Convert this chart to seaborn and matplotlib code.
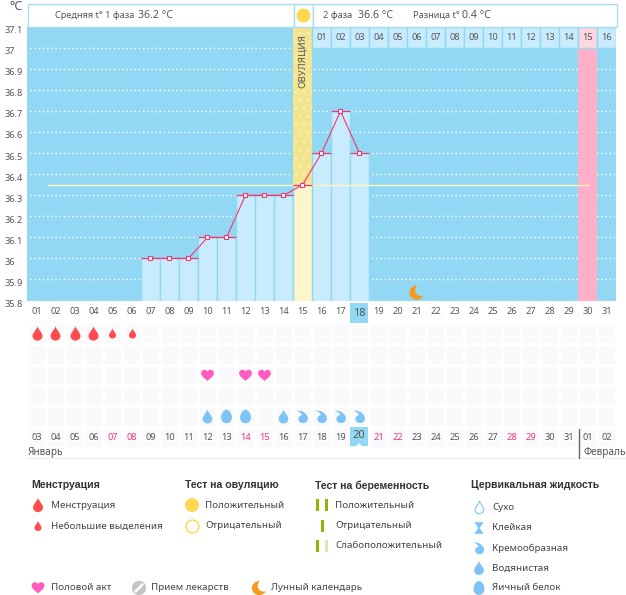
import matplotlib
matplotlib.use("Agg")
import matplotlib.pyplot as plt
import numpy as np
import seaborn as sns
from matplotlib.patches import Rectangle, Polygon
from matplotlib.path import Path
from matplotlib.transforms import ScaledTranslation

# chart values
chart_days = [7, 8, 9, 10, 11, 12, 13, 14, 15, 16, 17, 18]
temps = [36.0, 36.0, 36.0, 36.1, 36.1, 36.3, 36.3, 36.3, 36.35, 36.5, 36.7, 36.5]
bar_phase = ["f", "f", "f", "f", "f", "f", "f", "f", "o", "f", "f", "f"]
cycle_labels = ["%02d" % d for d in range(1, 32)]
date_labels = ["03", "04", "05", "06", "07", "08", "09", "10", "11", "12", "13", "14", "15", "16", "17", "18",
               "19", "20", "21", "22", "23", "24", "25", "26", "27", "28", "29", "30", "31", "01", "02"]
weekend_labels = ["07", "08", "14", "15", "21", "22", "28", "29"]
phase2_days = list(range(16, 32))
phase2_labels = ["%02d" % d for d in range(1, 17)]
temp_ticks = [37.1, 37, 36.9, 36.8, 36.7, 36.6, 36.5, 36.4, 36.3, 36.2, 36.1, 36, 35.9, 35.8]
temp_tick_labels = ["37.1", "37", "36.9", "36.8", "36.7", "36.6", "36.5", "36.4", "36.3", "36.2", "36.1", "36", "35.9", "35.8"]
mean_temp = 36.35
mean_from, mean_to = 1.55, 30.1
ovulation_day = 15
period_day = 30
today_day = 18
today_date = "20"
moon_day = [21]
moon_temp = [35.84]

# symbol rows
menses_days = [1, 2, 3, 4]
spotting_days = [5, 6]
sex_days = [10, 12, 13]
watery_days = [10, 14]
egg_days = [11, 12]
creamy_days = [15, 16, 17, 18]

BG = "#92d8f5"
BAR = "#c8ebfd"
PINK = "#f0386f"
TXT = "#555555"
RED = "#ff4b4b"
FLUID = "#7cc4f5"
GREEN = "#8db600"
ORANGE = "#f59a1d"
SUN = "#ffd84d"


def curve(points):
    codes = [Path.MOVETO] + [Path.CURVE4] * (len(points) - 1)
    return Path(points, codes)


DROP = curve([(0, 1), (.15, .5), (.7, .1), (.7, -.35), (.7, -.75), (.35, -1), (0, -1),
              (-.35, -1), (-.7, -.75), (-.7, -.35), (-.7, .1), (-.15, .5), (0, 1)])
HEART = curve([(0, -.85), (-.4, -.45), (-1, -.15), (-1, .35), (-1, .75), (-.7, .9), (-.45, .9),
               (-.25, .9), (-.08, .78), (0, .6), (.08, .78), (.25, .9), (.45, .9),
               (.7, .9), (1, .75), (1, .35), (1, -.15), (.4, -.45), (0, -.85)])
EGG = curve([(0, 1), (.45, 1), (.8, .35), (.8, -.15), (.8, -.7), (.4, -1), (0, -1),
             (-.4, -1), (-.8, -.7), (-.8, -.15), (-.8, .35), (-.45, 1), (0, 1)])
CREAMY = curve([(-.9, .85), (-.3, 1), (.4, .7), (.75, .05), (1, -.5), (.6, -1), (.1, -1),
                (-.4, -1), (-.75, -.6), (-.6, -.2), (-.5, .05), (-.2, .2), (-.1, .2),
                (-.1, .5), (-.5, .75), (-.9, .85)])
MOON = curve([(.1, 1), (-.6, 1), (-1, .45), (-1, -.05), (-1, -.6), (-.5, -1), (0, -1),
              (.45, -1), (.8, -.75), (1, -.45), (.5, -.6), (0, -.4), (-.15, .05),
              (-.25, .45), (-.1, .8), (.1, 1)])
STICKY = Path([(-.7, 1), (.7, 1), (.7, .8), (.15, .1), (.15, -.1), (.7, -.8), (.7, -1),
               (-.7, -1), (-.7, -.8), (-.15, -.1), (-.15, .1), (-.7, .8), (-.7, 1)])

sns.set_theme(style="white")
plt.rcParams["font.family"] = ["Noto Sans", "DejaVu Sans"]
plt.rcParams["hatch.linewidth"] = 0.5

W, H = 626, 595
fig = plt.figure(figsize=(W / 100, H / 100), dpi=100, facecolor="white")

# main temperature chart
ax = fig.add_axes([27 / W, (H - 300.5) / H, 589 / W, 273.5 / H], facecolor=BG)
ax.hlines([t for t in temp_ticks if t < 37.1], 0.65, 31.4, color="white", lw=1, ls=(0, (1, 2)), zorder=0.5)
ax.axvspan(ovulation_day - .5, ovulation_day + .5, facecolor="#f3e48f", edgecolor="#fbf4c4", hatch="..", lw=0, zorder=0.6)
ax.axvspan(period_day - .5, period_day + .5, facecolor="#ffb0c8", lw=0, zorder=0.6)

sns.barplot(x=chart_days, y=temps, hue=bar_phase, palette={"f": BAR, "o": "#fdf6cc"}, native_scale=True, saturation=1,
            width=1, dodge=False, legend=False, edgecolor=BG, linewidth=1, ax=ax)
for d in phase2_days:
    ax.bar(d, 0.1, bottom=37.0, width=1, color="#ffd5e0" if d == period_day else BAR, edgecolor=BG, linewidth=1, zorder=0.8)
for d, lab in zip(phase2_days, phase2_labels):
    ax.text(d, 37.048, lab, ha="center", va="center", fontsize=6.6, color=TXT)

ax.hlines(mean_temp, mean_from, mean_to, color="#fdf6b8", lw=1, zorder=2)
ax.hlines(temps, np.array(chart_days) - .5, np.array(chart_days) + .5, color=PINK, lw=0.9, zorder=3)
sns.lineplot(x=chart_days, y=temps, color=PINK, lw=0.8, marker="s", markersize=3.2, markerfacecolor="white",
             markeredgecolor=PINK, markeredgewidth=0.8, estimator=None, zorder=4, ax=ax)
sns.scatterplot(x=moon_day, y=moon_temp, marker=MOON, s=105, color=ORANGE, linewidth=0, zorder=4, ax=ax)
ax.text(ovulation_day - .02, 36.94, "ОВУЛЯЦИЯ", rotation=90, ha="center", va="center", fontsize=7, color=TXT)

ax.set_xlim(0.5, 31.5)
ax.set_ylim(35.8, 37.1)
ax.set_xticks(range(1, 32), cycle_labels)
ax.set_yticks(temp_ticks, temp_tick_labels)
ax.set_xlabel("")
ax.set_ylabel("")
ax.tick_params(axis="x", length=0, pad=5, labelsize=6.6, labelcolor=TXT)
ax.tick_params(axis="y", length=0, pad=16, labelsize=6.6, labelcolor=TXT)
for lab in ax.get_yticklabels():
    lab.set_horizontalalignment("left")
    lab.set_transform(lab.get_transform() + ScaledTranslation(0, -2 / 72, fig.dpi_scale_trans))
sns.despine(ax=ax, left=True, bottom=True)

# symbol grid under the chart
grid = fig.add_axes([27 / W, (H - 447.5) / H, 589 / W, 124.5 / H])
sns.heatmap(np.zeros((6, 31)), cmap=["#fafafc"], vmin=0, vmax=1, cbar=False, linewidths=1, linecolor="white",
            xticklabels=False, yticklabels=False, ax=grid)


def put(days, row, marker, size, color):
    sns.scatterplot(x=[d - .5 for d in days], y=[row + .5] * len(days), marker=marker, s=size, color=color,
                    linewidth=0, ax=grid, zorder=3)


put(menses_days, 0, DROP, 105, RED)
put(spotting_days, 0, DROP, 52, RED)
put(sex_days, 2, HEART, 85, "#ff5cc0")
put(watery_days, 4, DROP, 100, FLUID)
put(egg_days, 4, EGG, 95, FLUID)
put(creamy_days, 4, CREAMY, 90, FLUID)
grid.set_xlim(0, 31)
grid.set_ylim(6, 0)
for i, lab in enumerate(date_labels):
    if lab != today_date:
        grid.text(i + .5, 5.5, lab, ha="center", va="center", fontsize=6.6, zorder=4,
                  color=PINK if lab in weekend_labels else TXT)

# header, highlights and legend in page pixels
over = fig.add_axes([0, 0, 1, 1], facecolor="none")
over.set_xlim(0, W)
over.set_ylim(H, 0)
over.axis("off")
over.add_patch(Rectangle((27.5, 3.5), 266, 23.5, fc="white", ec="#a8dcf5", lw=1))
over.add_patch(Rectangle((293.5, 3.5), 19, 23.5, fc="white", ec="#a8dcf5", lw=1))
over.add_patch(Rectangle((312.5, 3.5), 304, 23.5, fc="white", ec="#a8dcf5", lw=1))
over.scatter([303], [15], s=100, color=SUN, linewidth=0, zorder=3)


def label(x, y, s, size=6.6, weight="normal", color=TXT, ha="left", family=None):
    over.text(x, y, s, fontsize=size, fontweight=weight, color=color, ha=ha, va="center", zorder=5, family=family)


label(9, 7, "°C", size=9)
label(55, 15, "Средняя t° 1 фаза")
label(138, 15, "36.2 °C", size=7.6)
label(323, 15, "2 фаза")
label(358, 15, "36.6 °C", size=7.6)
label(413, 15, "Разница t°")
label(462, 15, "0.4 °C", size=7.6)

tx = 27 + (today_day - 1) * 19
over.add_patch(Rectangle((tx, 303), 18, 20, fc=BG, lw=0, zorder=1.5))
ax.get_xticklabels()[today_day - 1].set_visible(False)
label(tx + 9, 313, cycle_labels[today_day - 1], size=8, ha="center")
over.add_patch(Rectangle((tx, 427), 18, 19, fc=BG, lw=0, zorder=1.5))
over.add_patch(Polygon([(tx + 6, 446), (tx + 12, 446), (tx + 9, 443)], fc="white", lw=0, zorder=1.6))
label(tx + 9, 436, today_date, size=8, ha="center")

over.plot([27, 626], [458, 458], color="#eeeeee", lw=1)
over.plot([578.5, 578.5], [429, 458], color="#666666", lw=1)
label(28, 453, "Январь", size=7.2)
label(583, 453, "Февраль", size=7.2)


def key(x, y, marker, size, color, text=None, tx=None, **kw):
    over.scatter([x], [y], marker=marker, s=size, color=color, linewidth=kw.get("lw", 0),
                 edgecolors=kw.get("ec", "none"), zorder=4)
    if text:
        label(tx, y, text, size=7, color="#444444")


for x, s in [(31, "Менструация"), (185, "Тест на овуляцию"), (315, "Тест на беременность"), (471, "Цервикальная жидкость")]:
    label(x, 485.5, s, size=7.6, weight="bold", color="#333333", family="Liberation Sans")

key(38, 505, DROP, 105, RED, "Менструация", 51)
key(38, 526, DROP, 52, RED, "Небольшие выделения", 51)
key(192, 505, "o", 100, SUN, "Положительный", 205)
key(192, 526, "o", 85, "white", "Отрицательный", 205, ec=SUN, lw=1)

for yy, xs, cols, s in [(505, [317.5, 326.5], [GREEN, GREEN], "Положительный"),
                        (526, [322], [GREEN], "Отрицательный"),
                        (546, [317.5, 326.5], [GREEN, "#dce8b8"], "Слабоположительный")]:
    for xx, c in zip(xs, cols):
        over.add_patch(Rectangle((xx - 1.5, yy - 6), 3, 12, fc=c, lw=0))
    label(335, yy, s, size=7, color="#444444")

key(479, 507, DROP, 80, "white", "Сухо", 492, ec=FLUID, lw=0.8)
key(479, 528, STICKY, 70, FLUID, "Клейкая", 492)
key(479, 548, CREAMY, 80, FLUID, "Кремообразная", 492)
key(479, 568, DROP, 100, FLUID, "Водянистая", 492)
key(479, 588, EGG, 100, FLUID, "Яичный белок", 492)

key(38, 588, HEART, 85, "#ff5cc0", "Половой акт", 51)
key(139, 588, "o", 105, "#c4c4c4", "Прием лекарств", 151)
over.plot([135.5, 142.5], [591.5, 584.5], color="white", lw=1.8, zorder=5)
key(259, 588, MOON, 105, ORANGE, "Лунный календарь", 271)

fig.savefig("out.png", dpi=100)
